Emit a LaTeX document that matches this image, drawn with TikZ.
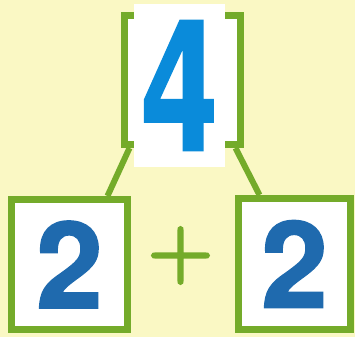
\documentclass[tikz,border=0pt]{standalone}
\usepackage{fontspec}
\setsansfont{TeX Gyre Heros}
\newfontfamily\heavyfont{TeX Gyre Heros}[BoldFeatures={FakeBold=1.5}]
\newfontfamily\opfont{Latin Modern Roman}[BoldFeatures={FakeBold=2.5}]
\usetikzlibrary{positioning,calc}
\definecolor{paper}{HTML}{FAF8C4}
\definecolor{leaf}{HTML}{74AB2A}
\definecolor{sky}{HTML}{0A8BDA}
\definecolor{ink}{HTML}{1F6AAE}

\begin{document}
\begin{tikzpicture}[x=1pt,y=-1pt,
 numbox/.style={draw=leaf,line width=7pt,fill=white,inner sep=0pt},
 link/.style={draw=leaf,line width=6pt},
 bigdigit/.style={fill=white,inner sep=0pt,minimum width=91pt,minimum height=163pt,text=sky,font=\heavyfont\bfseries\fontsize{182}{182}\selectfont},
 digit/.style={text=ink,font=\heavyfont\bfseries\fontsize{120}{120}\selectfont},
 op/.style={text=leaf,inner sep=0pt,font=\opfont\bfseries\fontsize{76}{76}\selectfont}
]
\fill[paper] (0,0) rectangle (355,337);
\node[numbox,minimum width=116pt,minimum height=129pt] (sum) at (182.5,80) {};
\node[numbox,minimum width=116pt,minimum height=130pt] (left) at (69.5,264.5) {};
\node[numbox,minimum width=112pt,minimum height=131pt] (right) at (294.5,264) {};
\node[digit] (lefttwo) at (left) {2};
\node[digit] (righttwo) at (right) {2};
\draw[link] ([xshift=8.5pt]sum.south west) -- ([xshift=-23.5pt]left.north east);
\draw[link] ([xshift=-8.5pt]sum.south east) -- ([xshift=24.5pt]right.north west);
\node[bigdigit] (four) at (179.5,85.5) {\scalebox{0.75}[1]{4}};
\node[op] (plus) at (180.5,255.5) {+};
\end{tikzpicture}
\end{document}
